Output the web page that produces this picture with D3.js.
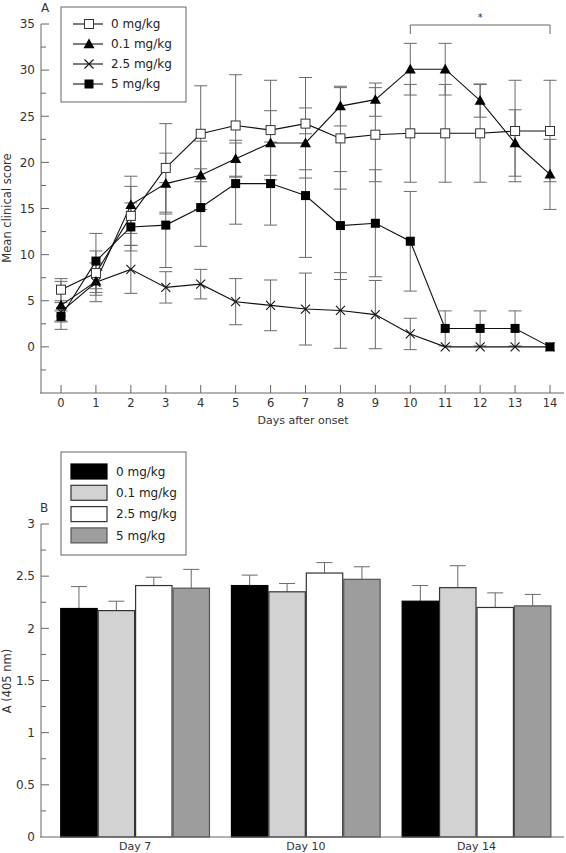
<!DOCTYPE html>
<html>
<head>
<meta charset="utf-8">
<script src="https://cdn.jsdelivr.net/npm/d3@7"></script>
<style>
  html, body { margin: 0; padding: 0; background: #fff; }
  svg { display: block; font-family: "DejaVu Sans", sans-serif; }
</style>
</head>
<body>
<svg id="chart" width="566" height="853"></svg>
<script>
// ---------- Panel A data ----------
const days = [0,1,2,3,4,5,6,7,8,9,10,11,12,13,14];
const seriesNames = ["0 mg/kg", "0.1 mg/kg", "2.5 mg/kg", "5 mg/kg"];
const score0  = [6.2, 8.0, 14.2, 19.4, 23.1, 24.0, 23.5, 24.2, 22.6, 23.0, 23.15, 23.15, 23.15, 23.4, 23.4];
const err0    = [1.2, 2.4, 3.2, 4.8, 5.2, 5.5, 5.4, 5.0, 5.5, 5.1, 5.3, 5.3, 5.3, 5.5, 5.5];
const score01 = [4.5, 7.1, 15.4, 17.7, 18.6, 20.4, 22.1, 22.1, 26.1, 26.8, 30.1, 30.1, 26.7, 22.1, 18.7];
const err01   = [2.6, 1.2, 3.1, 3.3, 3.7, 2.0, 3.5, 3.8, 2.15, 1.8, 2.8, 2.8, 1.8, 3.6, 3.8];
const score25 = [3.8, 7.0, 8.4, 6.45, 6.8, 4.9, 4.5, 4.1, 3.95, 3.5, 1.4, 0, 0, 0, 0];
const err25   = [1.0, 2.1, 2.6, 1.7, 1.6, 2.5, 2.75, 3.9, 4.1, 3.7, 1.7, 0, 0, 0, 0];
const score5  = [3.3, 9.3, 13.0, 13.2, 15.1, 17.7, 17.7, 16.4, 13.15, 13.4, 11.45, 2.0, 2.0, 2.0, 0];
const err5    = [0.6, 3.0, 2.6, 4.6, 4.2, 4.4, 4.5, 6.7, 5.85, 5.8, 5.4, 1.9, 1.9, 1.9, 0];
const yTicksA = [0, 5, 10, 15, 20, 25, 30, 35];
const sigRange = [10, 14];

// ---------- Panel B data ----------
const barGroups = ["Day 7", "Day 10", "Day 14"];
const abs0  = [2.19, 2.41, 2.26];
const abs01 = [2.17, 2.35, 2.39];
const abs25 = [2.41, 2.53, 2.20];
const abs5  = [2.385, 2.47, 2.215];
const sem0  = [0.21, 0.10, 0.15];
const sem01 = [0.09, 0.08, 0.21];
const sem25 = [0.08, 0.10, 0.14];
const sem5  = [0.18, 0.12, 0.11];
const yTicksB = [0, 0.5, 1, 1.5, 2, 2.5, 3];

const svg = d3.select("#chart");
const axisColor = "#666";
const errColor = "#6a6a6a";

// ================= PANEL A =================
const xA = d3.scaleLinear().domain([0, 14]).range([61, 550]);
const yA = d3.scaleLinear().domain([-5, 35]).range([393, 24]);
const gA = svg.append("g");

// y axis
gA.append("line").attr("x1", 41).attr("x2", 41).attr("y1", yA(35)).attr("y2", yA(-5))
  .attr("stroke", axisColor);
d3.range(-2.5, 35.01, 2.5).forEach(v => {
  const major = Math.abs(v % 5) < 1e-6;
  gA.append("line").attr("x1", 41).attr("x2", 41 + (major ? 8 : 5))
    .attr("y1", yA(v)).attr("y2", yA(v)).attr("stroke", axisColor);
});
yTicksA.forEach(v => {
  gA.append("text").attr("x", 35).attr("y", yA(v)).attr("dy", "0.36em")
    .attr("text-anchor", "end").attr("font-size", 12).attr("fill", "#333").text(v);
});
// x axis
gA.append("line").attr("x1", 40).attr("x2", 564).attr("y1", 393).attr("y2", 393)
  .attr("stroke", axisColor);
days.forEach(d => {
  gA.append("line").attr("x1", xA(d)).attr("x2", xA(d)).attr("y1", 393).attr("y2", 385)
    .attr("stroke", axisColor);
  gA.append("text").attr("x", xA(d)).attr("y", 407).attr("text-anchor", "middle")
    .attr("font-size", 11.5).attr("fill", "#333").text(d);
});
gA.append("text").attr("x", 303).attr("y", 424).attr("text-anchor", "middle")
  .attr("font-size", 11).attr("fill", "#333").text("Days after onset");
gA.append("text").attr("transform", "translate(11,208) rotate(-90)")
  .attr("text-anchor", "middle").attr("font-size", 11.5).attr("fill", "#333")
  .text("Mean clinical score");
gA.append("text").attr("x", 45).attr("y", 12).attr("text-anchor", "middle")
  .attr("font-size", 12).attr("fill", "#333").text("A");

const seriesA = [
  { name: seriesNames[0], vals: score0, errs: err0, shape: "openSquare" },
  { name: seriesNames[1], vals: score01, errs: err01, shape: "triangle" },
  { name: seriesNames[2], vals: score25, errs: err25, shape: "cross" },
  { name: seriesNames[3], vals: score5, errs: err5, shape: "filledSquare" }
];

// error bars
seriesA.forEach(s => {
  s.vals.forEach((v, i) => {
    const e = s.errs[i];
    if (e <= 0) return;
    const x = xA(days[i]);
    gA.append("line").attr("x1", x).attr("x2", x).attr("y1", yA(v + e)).attr("y2", yA(v - e))
      .attr("stroke", errColor);
    [v + e, v - e].forEach(c => {
      gA.append("line").attr("x1", x - 6.5).attr("x2", x + 6.5).attr("y1", yA(c)).attr("y2", yA(c))
        .attr("stroke", errColor);
    });
  });
});

// lines
const lineGen = d3.line().x((d, i) => xA(days[i])).y(d => yA(d));
seriesA.forEach(s => {
  gA.append("path").attr("d", lineGen(s.vals)).attr("fill", "none")
    .attr("stroke", "#111").attr("stroke-width", 1.1);
});

function drawMarker(g, shape, x, y) {
  if (shape === "openSquare") {
    g.append("rect").attr("x", x - 4.5).attr("y", y - 4.5).attr("width", 9).attr("height", 9)
      .attr("fill", "#fff").attr("stroke", "#333").attr("stroke-width", 1);
  } else if (shape === "filledSquare") {
    g.append("rect").attr("x", x - 4.5).attr("y", y - 4.5).attr("width", 9).attr("height", 9)
      .attr("fill", "#000");
  } else if (shape === "triangle") {
    g.append("path").attr("d", `M${x},${y - 5.5}L${x + 5.5},${y + 4.2}L${x - 5.5},${y + 4.2}Z`)
      .attr("fill", "#000");
  } else if (shape === "cross") {
    g.append("path").attr("d", `M${x - 4.5},${y - 4.5}L${x + 4.5},${y + 4.5}M${x - 4.5},${y + 4.5}L${x + 4.5},${y - 4.5}`)
      .attr("stroke", "#111").attr("stroke-width", 1.1).attr("fill", "none");
  }
}
seriesA.forEach(s => {
  s.vals.forEach((v, i) => drawMarker(gA, s.shape, xA(days[i]), yA(v)));
});

// significance bracket
gA.append("path")
  .attr("d", `M${xA(sigRange[0])},34V25H${xA(sigRange[1])}V34`)
  .attr("fill", "none").attr("stroke", axisColor);
gA.append("text").attr("x", (xA(sigRange[0]) + xA(sigRange[1])) / 2).attr("y", 21)
  .attr("text-anchor", "middle").attr("font-size", 10).attr("fill", "#333").text("*");

// legend A
gA.append("rect").attr("x", 61).attr("y", 7).attr("width", 125).attr("height", 95)
  .attr("fill", "#fff").attr("stroke", axisColor);
seriesA.forEach((s, i) => {
  const cy = 24 + i * 20;
  gA.append("line").attr("x1", 73).attr("x2", 103).attr("y1", cy).attr("y2", cy)
    .attr("stroke", "#111").attr("stroke-width", 1.1);
  drawMarker(gA, s.shape, 89, cy);
  gA.append("text").attr("x", 111).attr("y", cy).attr("dy", "0.36em")
    .attr("font-size", 12).attr("fill", "#222").text(s.name);
});

// ================= PANEL B =================
const yB = d3.scaleLinear().domain([0, 3]).range([837, 524]);
const x0B = d3.scaleBand().domain(barGroups).range([50, 561.6]).paddingInner(0.123).paddingOuter(0.06);
const x1B = d3.scaleBand().domain(seriesNames).range([0, x0B.bandwidth()]);
const gB = svg.append("g");

const barFill = ["#000000", "#d2d2d2", "#ffffff", "#9d9d9d"];
const barStroke = ["#000000", "#333333", "#333333", "#555555"];
const valsB = [abs0, abs01, abs25, abs5];
const semsB = [sem0, sem01, sem25, sem5];

// axis
gB.append("line").attr("x1", 41).attr("x2", 41).attr("y1", yB(3)).attr("y2", yB(0))
  .attr("stroke", axisColor);
d3.range(0.25, 3.001, 0.25).forEach(v => {
  const major = Math.abs((v * 2) % 1) < 1e-6;
  gB.append("line").attr("x1", 41).attr("x2", 41 + (major ? 8 : 5))
    .attr("y1", yB(v)).attr("y2", yB(v)).attr("stroke", axisColor);
});
yTicksB.forEach(v => {
  gB.append("text").attr("x", 35).attr("y", yB(v)).attr("dy", "0.36em")
    .attr("text-anchor", "end").attr("font-size", 12).attr("fill", "#333").text(v);
});
gB.append("text").attr("transform", "translate(11,681) rotate(-90)")
  .attr("text-anchor", "middle").attr("font-size", 11.5).attr("fill", "#333")
  .text("A (405 nm)");
gB.append("text").attr("x", 44).attr("y", 512).attr("text-anchor", "middle")
  .attr("font-size", 12).attr("fill", "#333").text("B");

// bars
barGroups.forEach((grp, gi) => {
  seriesNames.forEach((sn, si) => {
    const v = valsB[si][gi];
    const e = semsB[si][gi];
    const x = x0B(grp) + x1B(sn);
    const w = x1B.bandwidth();
    const cx = x + w / 2;
    gB.append("line").attr("x1", cx).attr("x2", cx).attr("y1", yB(v)).attr("y2", yB(v + e))
      .attr("stroke", errColor);
    gB.append("line").attr("x1", cx - 8).attr("x2", cx + 8).attr("y1", yB(v + e)).attr("y2", yB(v + e))
      .attr("stroke", errColor);
    gB.append("rect").attr("x", x + 0.5).attr("y", yB(v)).attr("width", w - 1)
      .attr("height", yB(0) - yB(v))
      .attr("fill", barFill[si]).attr("stroke", barStroke[si]).attr("stroke-width", 1.2);
  });
  gB.append("text").attr("x", x0B(grp) + x0B.bandwidth() / 2).attr("y", 850)
    .attr("text-anchor", "middle").attr("font-size", 11).attr("fill", "#333").text(grp);
});
gB.append("line").attr("x1", 40).attr("x2", 564).attr("y1", yB(0)).attr("y2", yB(0))
  .attr("stroke", axisColor);

// legend B
gB.append("rect").attr("x", 61).attr("y", 452).attr("width", 125).attr("height", 103)
  .attr("fill", "#fff").attr("stroke", axisColor);
seriesNames.forEach((sn, i) => {
  const ty = 464 + i * 21.3;
  gB.append("rect").attr("x", 71).attr("y", ty).attr("width", 36).attr("height", 15)
    .attr("fill", barFill[i]).attr("stroke", barStroke[i]).attr("stroke-width", 1.2);
  gB.append("text").attr("x", 116).attr("y", ty + 7.5).attr("dy", "0.36em")
    .attr("font-size", 12).attr("fill", "#222").text(sn);
});
</script>
</body>
</html>
